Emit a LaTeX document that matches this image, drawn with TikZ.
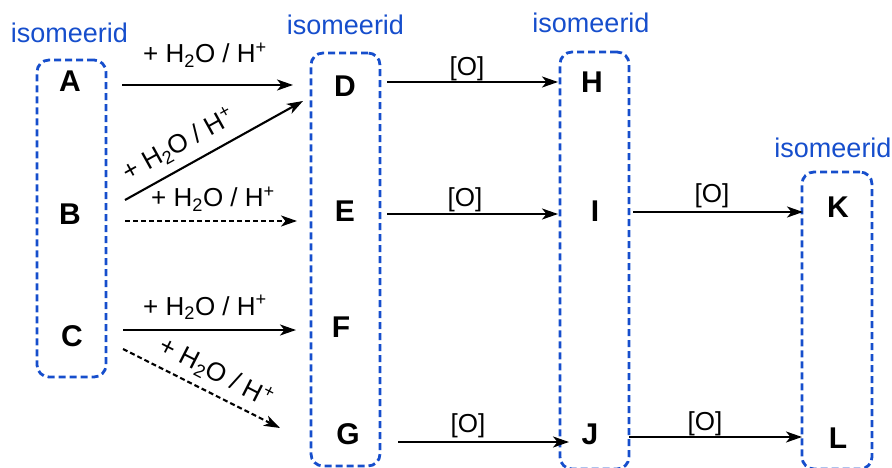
\documentclass[tikz,border=0pt]{standalone}
\usepackage{fontspec}
\setmainfont{Liberation Sans}
\usetikzlibrary{arrows.meta,calc}
\definecolor{isoblue}{RGB}{22,78,204}

\newcommand{\reagent}{+ H\textsubscript{2}O / H\textsuperscript{+}}

\begin{document}
\begin{tikzpicture}[x=1pt,y=-1pt,
  grp/.style={draw=isoblue, line width=2.8pt, dash pattern=on 7pt off 4pt,
              rounded corners=12pt, inner sep=0pt},
  cmp/.style={font=\fontsize{30}{32}\selectfont\bfseries, inner sep=0pt, anchor=base},
  tag/.style={text=isoblue, font=\fontsize{27}{30}\selectfont, inner sep=0pt, anchor=base},
  lbl/.style={font=\fontsize{26}{28}\selectfont, inner sep=0pt, anchor=base},
  rx/.style={draw, line width=2.1pt, -{Stealth[length=16pt,width=11pt,inset=4.5pt]}},
  rxd/.style={rx, dash pattern=on 5pt off 3pt},
]
\useasboundingbox (0,0) rectangle (892,468);
\clip (0,0) rectangle (892,468);

% groups of isomers
\node[grp, minimum width=69pt, minimum height=317pt] (g1) at (71.5,218.5) {};
\node[grp, minimum width=69pt, minimum height=413pt] (g2) at (345.5,259.5) {};
\node[grp, minimum width=69pt, minimum height=417pt] (g3) at (594.5,260.5) {};
\node[grp, minimum width=70pt, minimum height=297pt] (g4) at (837,320.5) {};

\node[tag] (t1) at (69.5,43) {isomeerid};
\node[tag] (t2) at (345.5,35) {isomeerid};
\node[tag] (t3) at (591,33) {isomeerid};
\node[tag] (t4) at (833,158) {isomeerid};

% compounds
\node[cmp] (A) at (70,92) {A};
\node[cmp] (B) at (70,225) {B};
\node[cmp] (C) at (72,346) {C};
\node[cmp] (D) at (345,97) {D};
\node[cmp] (E) at (345,222) {E};
\node[cmp] (F) at (341,337) {F};
\node[cmp] (G) at (348,444) {G};
\node[cmp] (H) at (592,93) {H};
\node[cmp] (I) at (595,222) {I};
\node[cmp] (J) at (590,444) {J};
\node[cmp] (K) at (838,218) {K};
\node[cmp] (L) at (838,448) {L};

% hydration
\draw[rx]  ($(A.base)+(52,-7)$)  -- ($(D.base)+(-52,-12)$);
\draw[rx]  ($(B.base)+(55,-25)$) -- ($(D.base)+(-42,4)$);
\draw[rxd] ($(B.base)+(55,-4)$)  -- ($(E.base)+(-48,-1)$);
\draw[rx]  ($(C.base)+(51,-16)$) -- ($(F.base)+(-45,-7)$);
\draw[rxd] ($(C.base)+(51,3)$)   -- ($(G.base)+(-68,-16)$);

\node[lbl] (l1) at (205,63) {\reagent};
\node[lbl] (l3) at (213,207) {\reagent};
\node[lbl] (l4) at (205,315) {\reagent};
\node[lbl, anchor=center, rotate=29] (l2) at (179,145) {\reagent};
\node[lbl, anchor=center, rotate=-27] (l5) at (216,373) {\reagent};

% oxidation
\draw[rx] ($(D.base)+(42,-15)$) -- ($(H.base)+(-34,-11)$);
\draw[rx] ($(E.base)+(42,-8)$)  -- ($(I.base)+(-37,-8)$);
\draw[rx] ($(G.base)+(50,-2)$)  -- ($(J.base)+(-21,-2)$);
\draw[rx] ($(I.base)+(38,-10)$) -- ($(K.base)+(-35,-6)$);
\draw[rx] ($(J.base)+(39,-7)$)  -- ($(L.base)+(-36,-11)$);

\node[lbl] (o1) at (467,76) {[O]};
\node[lbl] (o2) at (465,207) {[O]};
\node[lbl] (o3) at (468,432) {[O]};
\node[lbl] (o4) at (712,203) {[O]};
\node[lbl] (o5) at (705,430) {[O]};
\end{tikzpicture}
\end{document}
